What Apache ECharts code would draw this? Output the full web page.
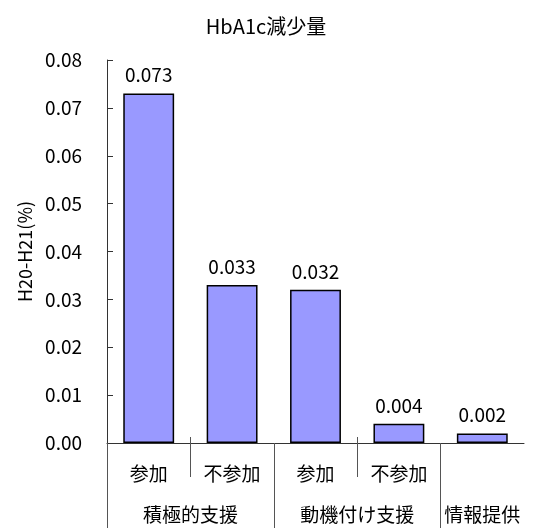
<!DOCTYPE html>
<html><head><meta charset="utf-8">
<script src="https://cdn.jsdelivr.net/npm/echarts@6/dist/echarts.min.js"></script>
<style>html,body{margin:0;padding:0;background:#fff}#c{width:541px;height:528px}</style>
</head><body><div id="c"></div>
<script>
const categories = ['参加', '不参加', '参加', '不参加', ''];
const values = [0.073, 0.033, 0.032, 0.004, 0.002];
const groupLabels = ['', '', '積極的支援', '', '', '', '動機付け支援', '', '', '情報提供', ''];
const groupBoundaryIdx = [0, 4, 8];
const subBoundaryIdx = [2, 6];
const yTicks = { min: 0, max: 0.08, interval: 0.01 };

const FONT = '"Noto Sans CJK JP", sans-serif';
const halfSlots = groupLabels.map(() => '');
const chart = echarts.init(document.getElementById('c'));
chart.setOption({
  animation: false,
  title: { text: 'HbA1c減少量', left: 261, top: 11, textAlign: 'center',
    textStyle: { fontFamily: FONT, fontSize: 20, fontWeight: 'normal', color: '#000' } },
  grid: { left: 107, top: 60, right: 17, bottom: 85 },
  xAxis: [{
    type: 'category', data: categories, position: 'bottom',
    axisLine: { lineStyle: { color: '#333', width: 1 } },
    axisTick: { show: false },
    axisLabel: { margin: 21, fontFamily: FONT, fontSize: 19, color: '#000', interval: 0 }
  }, {
    type: 'category', data: groupLabels, position: 'bottom', boundaryGap: false,
    axisLine: { show: false },
    axisTick: { show: true, length: 85, lineStyle: { color: '#555' },
      interval: function (i) { return groupBoundaryIdx.indexOf(i) >= 0; } },
    axisLabel: { margin: 62, fontFamily: FONT, fontSize: 19, color: '#000', interval: 0 }
  }, {
    type: 'category', data: halfSlots, position: 'bottom', boundaryGap: false, offset: -6,
    axisLine: { show: false },
    axisTick: { show: true, length: 40, lineStyle: { color: '#555' },
      interval: function (i) { return subBoundaryIdx.indexOf(i) >= 0; } },
    axisLabel: { show: false }
  }],
  yAxis: {
    type: 'value', min: yTicks.min, max: yTicks.max, interval: yTicks.interval,
    name: 'H20-H21(%)', nameLocation: 'middle', nameGap: 73,
    nameTextStyle: { fontFamily: FONT, fontSize: 18, color: '#000' },
    axisLine: { show: true, lineStyle: { color: '#333' } },
    axisTick: { show: true, inside: true, length: 6, lineStyle: { color: '#333' } },
    splitLine: { show: false },
    axisLabel: { margin: 25, fontFamily: FONT, fontSize: 19, color: '#000',
      formatter: v => v.toFixed(2) }
  },
  series: [{
    type: 'bar', data: values, xAxisIndex: 0, barWidth: '61%',
    itemStyle: { color: '#9999FF', borderColor: '#000', borderWidth: 1.5 },
    label: { show: true, position: 'top', distance: 9, fontFamily: FONT, fontSize: 19,
      color: '#000', formatter: p => p.value.toFixed(3) }
  }]
});
</script></body></html>
